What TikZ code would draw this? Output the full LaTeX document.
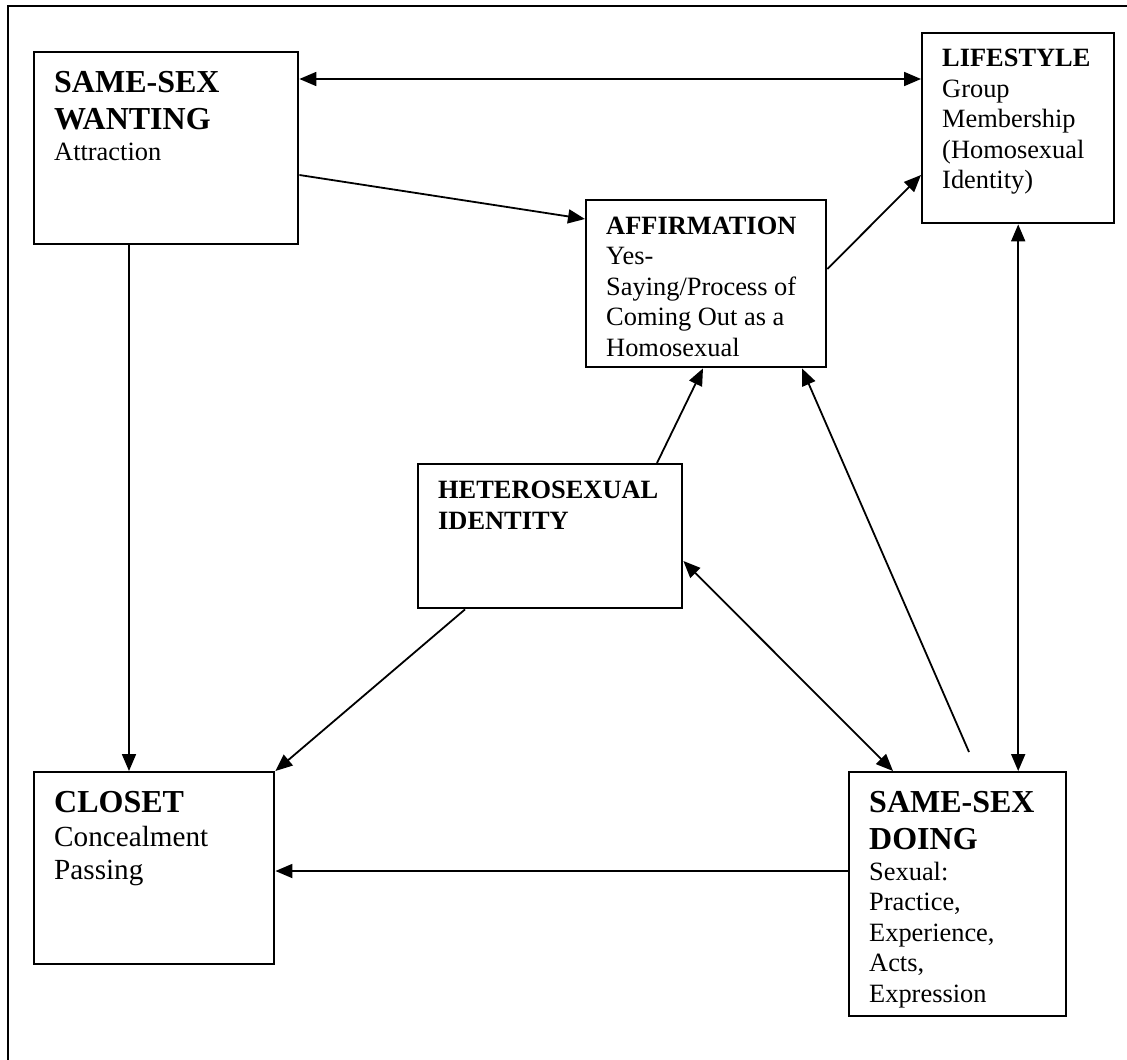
\documentclass[tikz,border=0pt]{standalone}
\usepackage{fontspec}
\setmainfont{Liberation Serif}
\usetikzlibrary{arrows.meta, positioning, calc}
% Large bold heading inside a concept box
\newcommand{\bigtitle}[1]{{\fontsize{32}{36.7}\selectfont\bfseries #1\par}}
\tikzset{
  % Concept box (#1 = first baseline below top, #2 = rest of the height)
  conceptbox/.style 2 args={
    rectangle, draw=black, line width=2.4pt, anchor=north west,
    align=flush left, inner xsep=20pt, inner ysep=0pt,
    text height=#1, text depth=#2, font=\fontsize{26.4}{30.5}\selectfont
  },
  linkarrow/.style={-{Triangle[length=17pt, width=14pt]}, line width=1.8pt},
  botharrow/.style={{Triangle[length=17pt, width=14pt]}-{Triangle[length=17pt, width=14pt]}, line width=1.8pt},
  frame/.style={draw=black, line width=2.2pt}
}

\begin{document}
\begin{tikzpicture}[x=1pt, y=-1pt]
  \useasboundingbox (0,0) rectangle (1127,1060);
  \clip (0,0) rectangle (1127,1060);
  \draw[frame] (8,6) rectangle (1140,1075);

  % Nodes
  \node[conceptbox={40.7pt}{151.3pt}, text width=224pt] (want) at (33,51)
    {\bigtitle{SAME-SEX\\WANTING}Attraction};
  \node[conceptbox={33.5pt}{156.5pt}, text width=152pt] (life) at (921,32)
    {\textbf{LIFESTYLE}\\Group\\Membership\\(Homosexual\\Identity)};
  \node[conceptbox={34pt}{133pt}, text width=200pt] (aff) at (585,199)
    {\textbf{AFFIRMATION}\\Yes-\\Saying/Process of\\Coming Out as a\\Homosexual};
  \node[conceptbox={34.7pt}{109.3pt}, text width=224pt] (het) at (417,463)
    {\textbf{HETEROSEXUAL}\\\textbf{IDENTITY}};
  \node[conceptbox={40.7pt}{203.3pt}, text width=177pt] (doing) at (848,771)
    {\bigtitle{SAME-SEX\\DOING}Sexual:\\Practice,\\Experience,\\Acts,\\Expression};
  \node[conceptbox={40.7pt}{151.3pt}, text width=200pt, font=\fontsize{29.2}{33.3}\selectfont] (closet) at (33,771)
    {\bigtitle{CLOSET}Concealment\\Passing};

  % Arrows
  \draw[botharrow] ([yshift=-28pt]want.north east) -- ([yshift=-28pt]want.north east -| life.west);
  \draw[linkarrow] ([yshift=-124pt]want.north east) -- ([yshift=-20pt]aff.north west);
  \draw[linkarrow] ([yshift=-70pt]aff.north east) -- ([yshift=-143pt]life.north west);
  \draw[botharrow] (life.south) -- (life.south |- doing.north);
  \draw[linkarrow] ([xshift=96pt]want.south west) -- ([xshift=96pt]want.south west |- closet.north);
  \draw[linkarrow] ([xshift=240pt]het.north west) -- ([xshift=118pt]aff.south west);
  \coordinate[above=19pt of doing.north west, xshift=121pt] (doingtop);
  \draw[linkarrow] (doingtop) -- ([xshift=217pt]aff.south west);
  \draw[botharrow] ([yshift=-98pt]het.north east) -- ([xshift=45pt]doing.north west);
  \draw[linkarrow] ([xshift=48pt]het.south west) -- (closet.north east);
  \draw[linkarrow] ([yshift=-100pt]doing.north west) -- ([yshift=-100pt]doing.north west -| closet.east);
\end{tikzpicture}
\end{document}
